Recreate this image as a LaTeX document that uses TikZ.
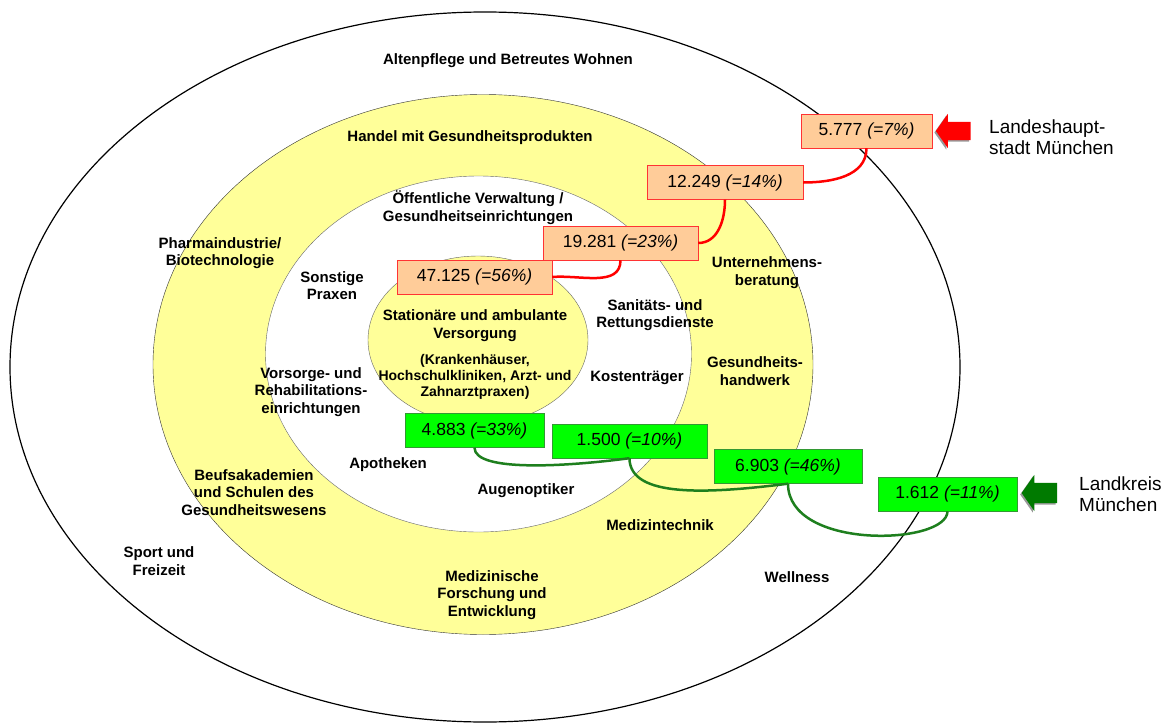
\documentclass[tikz,border=0pt]{standalone}
\usepackage{fontspec}
\setmainfont{Liberation Sans}
\usetikzlibrary{shapes.arrows, positioning, shadows}
\definecolor{ringYellow}{HTML}{FFFF99}
\definecolor{cityFill}{HTML}{FFCC99}
\definecolor{cityLine}{HTML}{FF3333}
\definecolor{countyFill}{HTML}{00FF00}
\definecolor{countyLine}{HTML}{339933}
\definecolor{countyDark}{HTML}{1E7F1E}
\definecolor{arrowGreen}{HTML}{007A00}

\begin{document}
\begin{tikzpicture}[x=1pt, y=-1pt,
  sector/.style={font=\fontsize{15}{17.5}\selectfont\bfseries, align=center, inner sep=1pt},
  city/.style={draw=cityLine, fill=cityFill, font=\fontsize{17.5}{20}\selectfont,
    minimum height=34pt, inner sep=2pt},
  county/.style={draw=countyLine, fill=countyFill, font=\fontsize{17.5}{20}\selectfont,
    minimum height=34pt, inner sep=2pt},
  citylink/.style={draw=red, line width=2.5pt},
  countylink/.style={draw=countyDark, line width=2.5pt},
  region/.style={font=\fontsize{19}{21}\selectfont, align=left, anchor=west, inner sep=0pt},
  pointer/.style={single arrow, shape border rotate=180, inner xsep=14pt, inner ysep=9pt,
    single arrow head extend=8pt, single arrow tip angle=110,
    drop shadow={shadow xshift=-1.5pt, shadow yshift=-1.5pt, opacity=0.8}}]

  \useasboundingbox (0,0) rectangle (1176,725);

  % rings
  \draw[line width=1.2pt] (485,367) ellipse [x radius=475, y radius=355];
  \draw[fill=ringYellow, draw=black!80] (483,364.5) ellipse [x radius=330, y radius=270];
  \draw[fill=white, draw=black!60] (478.5,354) ellipse [x radius=213, y radius=178];
  \draw[fill=ringYellow, draw=black!60] (478,340) ellipse [x radius=110, y radius=84];

  % sectors
  \node[sector] (alten) at (508,61) {Altenpflege und Betreutes Wohnen};
  \node[sector] (handel) at (470,138) {Handel mit Gesundheitsprodukten};
  \node[sector] (verwaltung) at (478,207.5) {Öffentliche Verwaltung /\\Gesundheitseinrichtungen};
  \node[sector] (pharma) at (220,253) {Pharmaindustrie/\\Biotechnologie};
  \node[sector] (praxen) at (332,285.5) {Sonstige\\Praxen};
  \node[sector] (beratung) at (767,272.5) {Unternehmens-\\beratung};
  \node[sector] (rettung) at (655,315) {Sanitäts- und\\Rettungsdienste};
  \node[sector] (station) at (475,325.5) {Stationäre und ambulante\\Versorgung};
  \node[sector, font=\fontsize{14}{16}\selectfont\bfseries] (kliniken) at (475,377)
    {(Krankenhäuser,\\Hochschulkliniken, Arzt- und\\Zahnarztpraxen)};
  \node[sector] (kosten) at (637,378) {Kostenträger};
  \node[sector] (handwerk) at (755,371) {Gesundheits-\\handwerk};
  \node[sector] (vorsorge) at (311,392) {Vorsorge- und\\Rehabilitations-\\einrichtungen};
  \node[sector] (apotheken) at (388,465) {Apotheken};
  \node[sector] (optiker) at (526,491) {Augenoptiker};
  \node[sector] (akademien) at (254,492.5) {Beufsakademien\\und Schulen des\\Gesundheitswesens};
  \node[sector] (medtech) at (660,525) {Medizintechnik};
  \node[sector] (sport) at (159,561) {Sport und\\Freizeit};
  \node[sector] (forschung) at (492,595) {Medizinische\\Forschung und\\Entwicklung};
  \node[sector] (wellness) at (797,577) {Wellness};

  % Landeshauptstadt
  \node[city, minimum width=131pt] (c1) at (866.5,131) {5.777 \textit{(=7\%)}};
  \node[city, minimum width=156pt] (c2) at (725,182.5) {12.249 \textit{(=14\%)}};
  \node[city, minimum width=155pt] (c3) at (620.5,243) {19.281 \textit{(=23\%)}};
  \node[city, minimum width=155pt] (c4) at (474.5,277) {47.125 \textit{(=56\%)}};
  \draw[citylink] (c1.south) to[out=-90, in=0] (c2.east);
  \draw[citylink] (c2.south) to[out=-90, in=0] (c3.east);
  \draw[citylink] (c3.south) to[out=-90, in=5] (c4.east);

  % Landkreis
  \node[county, minimum width=139pt] (k1) at (474.5,430.5) {4.883 \textit{(=33\%)}};
  \node[county, minimum width=155pt] (k2) at (629.5,441) {1.500 \textit{(=10\%)}};
  \node[county, minimum width=148pt] (k3) at (788,466.5) {6.903 \textit{(=46\%)}};
  \node[county, minimum width=139pt] (k4) at (947.5,494) {1.612 \textit{(=11\%)}};
  \draw[countylink] (k1.south) .. controls +(0,25) and +(-60,8) .. (k2.south);
  \draw[countylink] (k2.south) .. controls +(0,40) and +(-80,10) .. (k3.south);
  \draw[countylink] (k3.south) .. controls +(0,67) and +(0,34) .. (k4.south);

  % regions
  \node[pointer, fill=red] (cityarrow) at (956.5,131) {};
  \node[region] (city) at (989,137.5) {Landeshaupt-\\stadt München};
  \node[pointer, fill=arrowGreen, inner ysep=10pt] (countyarrow) at (1043,493) {};
  \node[region] (county) at (1079,494) {Landkreis\\München};
\end{tikzpicture}
\end{document}
